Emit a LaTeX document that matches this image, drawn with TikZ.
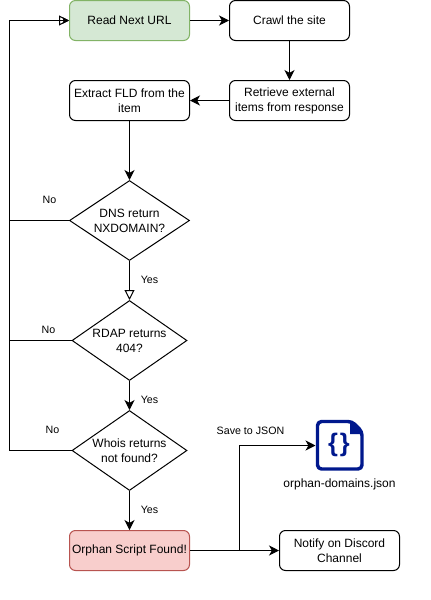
\documentclass[tikz,border=0pt]{standalone}
\usepackage{fontspec}
\setmainfont{Liberation Sans}
\usetikzlibrary{shapes.geometric,arrows.meta}
\definecolor{gfill}{HTML}{D5E8D4}
\definecolor{gline}{HTML}{82B366}
\definecolor{rfill}{HTML}{F8CECC}
\definecolor{rline}{HTML}{B85450}
\definecolor{iconblue}{HTML}{00188D}
\tikzset{
  x=0.75pt,y=-0.75pt,
  txt/.style={font=\fontsize{9}{11.25}\selectfont,align=center,text=black},
  small/.style={font=\fontsize{8}{10}\selectfont,text=black,inner sep=0pt},
  box/.style={txt,draw=black,fill=white,rounded corners=4.5pt,line width=0.75pt,minimum width=90pt,minimum height=30pt,inner sep=0pt},
  dia/.style={draw=black,fill=white,diamond,line width=0.75pt,inner sep=0pt,minimum width=#1,minimum height=60pt},
  dtext/.style={txt,inner sep=0pt},
  conn/.style={draw=black,line width=0.75pt,-{Stealth[length=7.5pt,width=7.5pt,inset=2.2pt]}},
  tinyconn/.style={draw=black,line width=0.75pt,-{Stealth[length=5pt,width=5pt,inset=1pt]}},
  plainline/.style={draw=black,line width=0.75pt},
  openconn/.style={draw=black,line width=0.75pt,-{Triangle[open,fill=white,length=7.5pt,width=7.5pt]}}
}
\begin{document}
\begin{tikzpicture}
\useasboundingbox (0,0) rectangle (430,600);
\node[box,fill=gfill,draw=gline] (read) at (129.5,20.5) {Read Next URL};
\node[box] (crawl) at (289.5,20.5) {Crawl the site};
\node[box] (retr) at (289.5,100.5) {Retrieve external\\items from response};
\node[box] (extr) at (129.5,100.5) {Extract FLD from the\\item};
\node[dia=90pt] (dns) at (129.5,220.5) {};
\node[dtext] (dnst) at (129.5,220.5) {DNS return\\NXDOMAIN?};
\node[dia=86.25pt] (rdap) at (129.5,340.5) {};
\node[dtext] (rdapt) at (129.5,340.5) {RDAP returns\\404?};
\node[dia=86.25pt] (whois) at (129.5,450.5) {};
\node[dtext] (whoist) at (129.5,450.5) {Whois returns\\not found?};
\node[box,fill=rfill,draw=rline] (orph) at (129.5,550.5) {Orphan Script Found!};
\node[box] (notify) at (339.5,550.5) {Notify on Discord\\Channel};
\coordinate (icon) at (315.5,445.5);
\coordinate (rail) at (9.5,20.5);
\coordinate (split) at (239.5,550.5);
% connectors
\draw[conn] (read) -- (crawl);
\draw[conn] (crawl) -- (retr);
\draw[conn] (retr) -- (extr);
\draw[conn] (extr) -- (dns);
\draw[openconn] (dns) -- (rdap);
\draw[conn] (rdap) -- (whois);
\draw[conn] (whois) -- (orph);
\draw[conn] (orph) -- (notify);
\draw[conn] (split) |- (icon);
\draw[plainline] (dns.west) -| (rail);
\draw[plainline] (rdap.west) -| (rail);
\draw[openconn] (whois.west) -| (rail) -- (read.west);
\draw[tinyconn] (rail) -- (read.west);
% icon
\draw[iconblue,line width=2.6pt,line join=round,rounded corners=3pt] (317.5,421.5) -- (352,421.5) -- (362,431.5) -- (362,469) -- (317.5,469) -- cycle;
\fill[iconblue] (350,421) -- (363,434) -- (350,434) -- cycle;
\node[font=\fontsize{19}{19}\bfseries\selectfont,text=iconblue,inner sep=0pt] (braces) at (339,445) {\{\kern1.5pt\}};
% labels
\node[txt,inner sep=0pt] (jsonl) at (339.5,484) {orphan-domains.json};
\node[small] (no1) at (49.5,200) {No};
\node[small] (no2) at (48.5,330) {No};
\node[small] (no3) at (52.5,430) {No};
\node[small] (y1) at (149.5,280) {Yes};
\node[small] (y2) at (149.5,400) {Yes};
\node[small] (y3) at (149.5,510) {Yes};
\node[small] (save) at (250.5,431) {Save to JSON};
\end{tikzpicture}
\end{document}
